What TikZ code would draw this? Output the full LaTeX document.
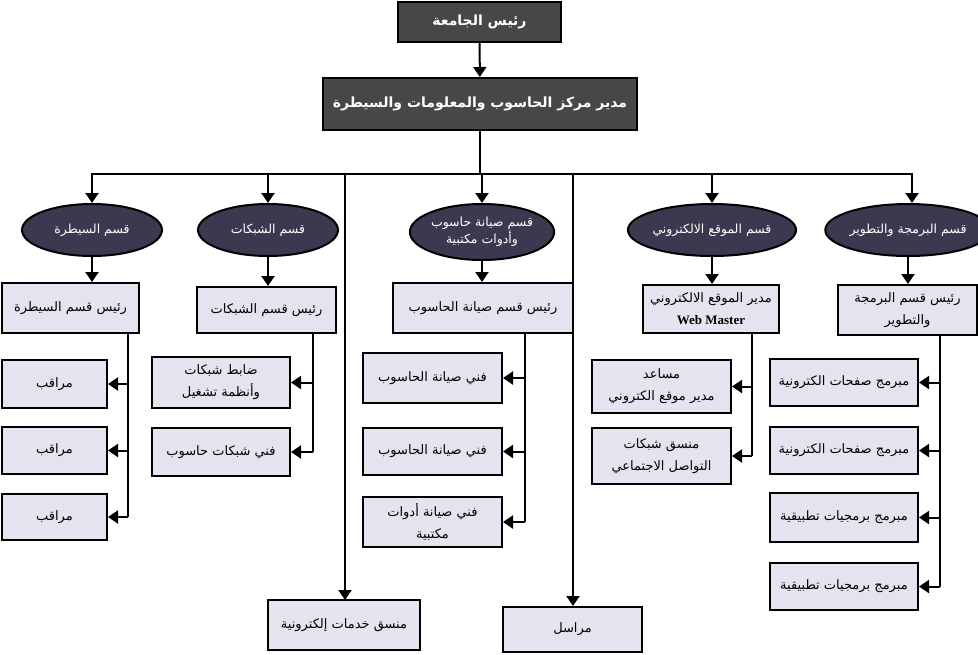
\documentclass[tikz,border=0pt]{standalone}
\usepackage{fontspec}
\setmainfont{Liberation Serif}
\newfontfamily\arabicfont[Script=Arabic]{DejaVu Sans}
\TeXXeTstate=1
\usetikzlibrary{arrows.meta,shapes.geometric}
\newcommand{\AR}[1]{{\arabicfont\beginR #1\endR}}
\definecolor{darkbox}{HTML}{474747}
\definecolor{ellfill}{HTML}{3B3950}
\definecolor{lightbox}{HTML}{E4E4F0}
\tikzset{
  topbox/.style={draw=black,line width=2pt,fill=darkbox,text=white,font=\fontsize{14}{17}\selectfont\bfseries,inner sep=0pt,align=center},
  ellnode/.style={ellipse,draw=black,line width=2pt,fill=ellfill,text=white,font=\fontsize{12.5}{15}\selectfont,inner sep=0pt,align=center},
  lbox/.style={draw=black,line width=2pt,fill=lightbox,font=\fontsize{13}{22}\selectfont,inner sep=0pt,align=center},
  conn/.style={line width=2pt},
  arr/.style={line width=2pt,-{Triangle[length=10pt,width=13pt]}}
}
\begin{document}
\begin{tikzpicture}[x=1pt,y=-1pt]
\useasboundingbox (0,0) rectangle (978,654);
\node[topbox,minimum width=163,minimum height=40] (u) at (479.5,22) {\AR{رئيس الجامعة}};
\node[topbox,minimum width=314,minimum height=52] (m) at (480,104) {\AR{مدير مركز الحاسوب والمعلومات والسيطرة}};
% ellipses
\node[ellnode,minimum width=140,minimum height=52] (e1) at (92,230) {\AR{قسم السيطرة}};
\node[ellnode,minimum width=140,minimum height=52] (e2) at (268,230) {\AR{قسم الشبكات}};
\node[ellnode,minimum width=136,minimum height=56] (e3) at (482,232) {\AR{قسم صيانة حاسوب}\\\AR{وأدوات مكتبية}};
\node[ellnode,minimum width=140,minimum height=52] (e4) at (712,230) {\AR{قسم الموقع الالكتروني}};
\node[ellnode,minimum width=140,minimum height=52] (e5) at (908,230) {\AR{قسم البرمجة والتطوير}};
% heads
\node[lbox,minimum width=137,minimum height=50] (h1) at (70.5,308) {\AR{رئيس قسم السيطرة}};
\node[lbox,minimum width=139,minimum height=46] (h2) at (266.5,310) {\AR{رئيس قسم الشبكات}};
\node[lbox,minimum width=180,minimum height=50] (h3) at (483,308) {\AR{رئيس قسم صيانة الحاسوب}};
\node[lbox,minimum width=136,minimum height=48] (h4) at (711,309) {\AR{مدير الموقع الالكتروني}\\\textbf{Web Master}};
\node[lbox,minimum width=139,minimum height=50] (h5) at (907.5,310) {\AR{رئيس قسم البرمجة}\\\AR{والتطوير}};
% bottom
\node[lbox,minimum width=152,minimum height=50] (b1) at (344,625) {\AR{منسق خدمات إلكترونية}};
\node[lbox,minimum width=139,minimum height=45] (b2) at (572.5,629.5) {\AR{مراسل}};
% sub boxes
\node[lbox,minimum width=105,minimum height=48] (s11) at (54.5,384) {\AR{مراقب}};
\node[lbox,minimum width=105,minimum height=47] (s12) at (54.5,450.5) {\AR{مراقب}};
\node[lbox,minimum width=105,minimum height=46] (s13) at (54.5,517) {\AR{مراقب}};
\node[lbox,minimum width=138,minimum height=51] (s21) at (221,382.5) {\AR{ضابط شبكات}\\\AR{وأنظمة تشغيل}};
\node[lbox,minimum width=138,minimum height=48] (s22) at (221,452) {\AR{فني شبكات حاسوب}};
\node[lbox,minimum width=139,minimum height=50] (s31) at (432.5,378) {\AR{فني صيانة الحاسوب}};
\node[lbox,minimum width=139,minimum height=47] (s32) at (432.5,451.5) {\AR{فني صيانة الحاسوب}};
\node[lbox,minimum width=139,minimum height=50] (s33) at (432.5,522) {\AR{فني صيانة أدوات}\\\AR{مكتبية}};
\node[lbox,minimum width=139,minimum height=53] (s41) at (661.5,386.5) {\AR{مساعد}\\\AR{مدير موقع الكتروني}};
\node[lbox,minimum width=139,minimum height=56] (s42) at (661.5,456) {\AR{منسق شبكات}\\\AR{التواصل الاجتماعي}};
\node[lbox,minimum width=148,minimum height=47] (s51) at (844,382.5) {\AR{مبرمج صفحات الكترونية}};
\node[lbox,minimum width=148,minimum height=47] (s52) at (844,450.5) {\AR{مبرمج صفحات الكترونية}};
\node[lbox,minimum width=148,minimum height=49] (s53) at (844,517.5) {\AR{مبرمج برمجيات تطبيقية}};
\node[lbox,minimum width=148,minimum height=47] (s54) at (844,586.5) {\AR{مبرمج برمجيات تطبيقية}};
% top connectors
\draw[arr] (u) -- (m);
\coordinate (bus) at (480,174);
\coordinate (busL) at (92,174);
\coordinate (busR) at (912,174);
\draw[conn] (m.south) -- (bus);
\draw[conn,line cap=rect] (busL) -- (busR);
\draw[arr] (busL) -- (e1.north);
\draw[arr] (e2.north |- bus) -- (e2.north);
\draw[arr] (e3.north |- bus) -- (e3.north);
\draw[arr] (e4.north |- bus) -- (e4.north);
\draw[arr] (busR) -- (busR |- e5.north);
\draw[arr] (345,174) -- (345,600);
\draw[arr] (573,174) -- (b2.north -| 573,0);
\foreach \i in {1,...,5} \draw[arr] (e\i.south) -- (e\i.south |- h\i.north);
% branches
\coordinate (t1) at (128,333);
\draw[conn] (t1) -- (t1 |- s13.east);
\foreach \s in {s11,s12,s13} \draw[arr] (t1 |- \s.east) -- (\s.east);
\coordinate (t2) at (313,333);
\draw[conn] (t2) -- (t2 |- s22.east);
\foreach \s in {s21,s22} \draw[arr] (t2 |- \s.east) -- (\s.east);
\coordinate (t3) at (525,333);
\draw[conn] (t3) -- (t3 |- s33.east);
\foreach \s in {s31,s32,s33} \draw[arr] (t3 |- \s.east) -- (\s.east);
\coordinate (t4) at (752,333);
\draw[conn] (t4) -- (t4 |- s42.east);
\foreach \s in {s41,s42} \draw[arr] (t4 |- \s.east) -- (\s.east);
\coordinate (t5) at (940,335);
\draw[conn] (t5) -- (t5 |- s54.east);
\foreach \s in {s51,s52,s53,s54} \draw[arr] (t5 |- \s.east) -- (\s.east);
\end{tikzpicture}
\end{document}
